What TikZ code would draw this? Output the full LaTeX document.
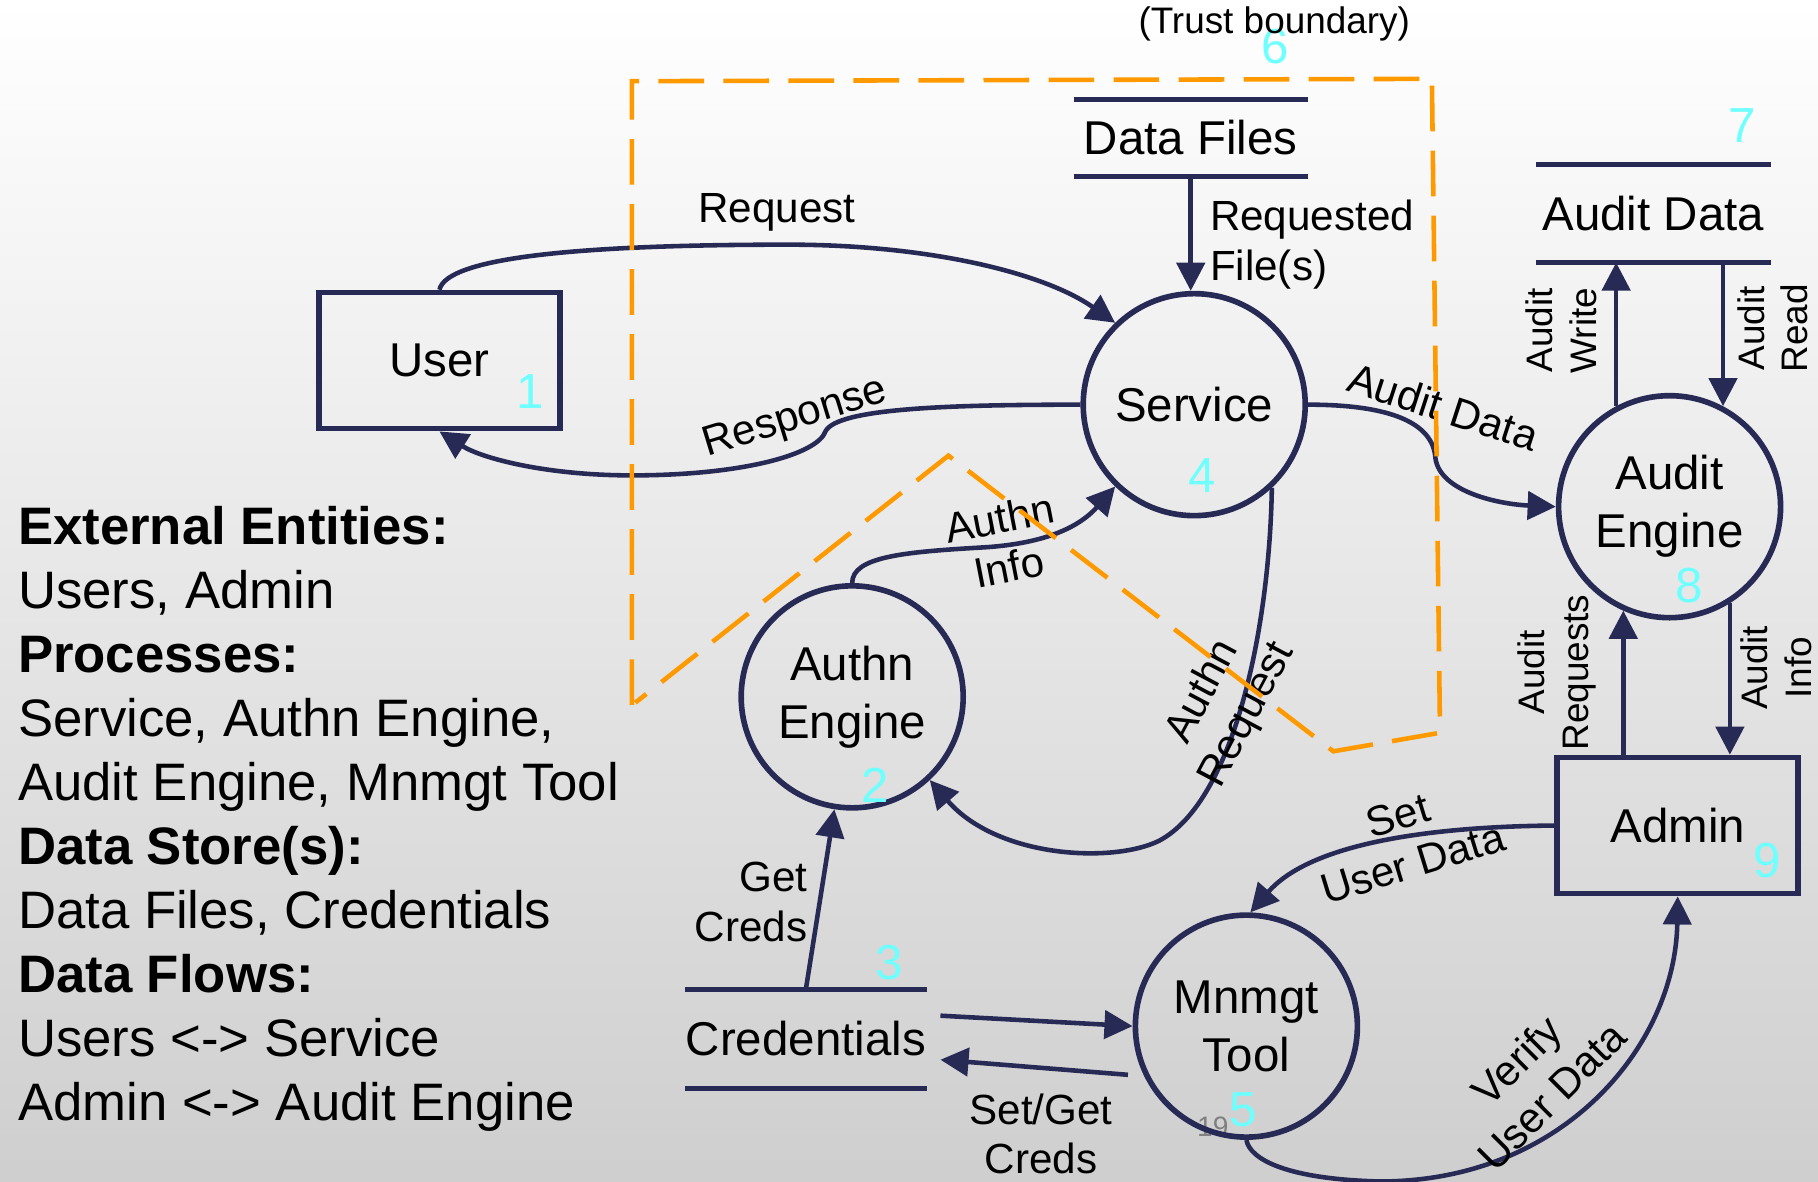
\documentclass[tikz,border=0pt]{standalone}
\usepackage{fontspec}
\setmainfont{Liberation Sans}
\usetikzlibrary{arrows.meta, calc}

\definecolor{dfdnavy}{RGB}{40,42,86}
\definecolor{trustorange}{RGB}{255,153,0}
\definecolor{idcyan}{RGB}{110,255,255}

\newcommand{\dfdnode}{\fontsize{13.5}{16.5}\selectfont}
\newcommand{\dfdflow}{\fontsize{12}{14.2}\selectfont}
\newcommand{\dfdvert}{\fontsize{10.5}{12.5}\selectfont}
\newcommand{\dfdnum}{\fontsize{14}{16}\selectfont}
\newcommand{\dfdside}{\fontsize{15}{18.2}\selectfont}

\tikzset{
  flow/.style={draw=dfdnavy, line width=1.3pt, -{Triangle[length=8pt,width=8pt]}},
  entity/.style={draw=dfdnavy, line width=1.6pt, minimum width=24.1mm, minimum height=13.6mm, font=\dfdnode},
  process/.style={circle, draw=dfdnavy, line width=1.6pt, minimum size=22.2mm, inner sep=0pt, align=center, font=\dfdnode},
  store/.style={minimum width=23.3mm, inner sep=0pt, font=\dfdnode},
  storeline/.style={draw=dfdnavy, line width=1.4pt},
  lbl/.style={font=\dfdflow, align=center, inner sep=1pt},
  vlbl/.style={font=\dfdvert, align=center, rotate=90, inner sep=1pt},
  num/.style={text=idcyan, font=\dfdnum, inner sep=0pt},
  trust/.style={draw=trustorange, line width=1.3pt, dash pattern=on 13pt off 5.5pt},
}

\begin{document}
\begin{tikzpicture}[x=0.11594mm, y=-0.11594mm]
  \shade[top color=white, bottom color=gray!38] (0,0) rectangle (1568,1019); % backdrop
  \useasboundingbox (0,0) rectangle (1568,1019);

  % summary on the left
  \node[anchor=west, align=left, font=\dfdside, inner sep=0pt] (summary) at (15,706) {%
    \textbf{External Entities:}\\
    Users, Admin\\
    \textbf{Processes:}\\
    Service, Authn Engine,\\
    Audit Engine, Mnmgt Tool\\
    \textbf{Data Store(s):}\\
    Data Files, Credentials\\
    \textbf{Data Flows:}\\
    Users <-> Service\\
    Admin <-> Audit Engine};

  % external entities
  \node[entity] (user) at (379,311) {User};
  \node[entity] (admin) at (1447,712) {Admin};

  % processes
  \node[text=gray, font=\fontsize{8}{9}\selectfont, inner sep=0pt] (pageno) at (1046,972) {19};
  \node[process] (service) at (1030,349) {Service};
  \node[process] (authn) at (735,601) {Authn\\Engine};
  \node[process] (auditeng) at (1440,437) {Audit\\Engine};
  \node[process] (tool) at (1075,885) {Mnmgt\\Tool};

  % data stores
  \node[store, minimum height=7.5mm] (files) at (1027,119) {Data Files};
  \node[store, minimum height=9.7mm] (auditdata) at (1426,184) {Audit Data};
  \node[store, minimum height=9.7mm] (creds) at (695,896) {Credentials};
  \foreach \s in {files,auditdata,creds}
    \draw[storeline] (\s.north west) -- (\s.north east) (\s.south west) -- (\s.south east);

  % element numbers
  \node[num] at (457,338) {1};
  \node[num] at (755,677) {2};
  \node[num] at (767,830) {3};
  \node[num] at (1037,410) {4};
  \node[num] at (1072,957) {5};
  \node[num] at (1100,40) {6};
  \node[num] at (1503,108) {7};
  \node[num] at (1457,505) {8};
  \node[num] at (1524,742) {9};

  % flows between user and service
  \draw[flow] (user.north) .. controls (385,222) and (500,211) .. (680,211) .. controls (800,211) and (900,235) .. (service.134);
  \draw[flow] (service.west) .. controls (820,349) and (722,352) .. (712,372) .. controls (705,392) and (640,410) .. (545,410) .. controls (470,410) and (415,395) .. (user.south);
  \node[lbl] at (670,183) {Request};
  \node[lbl, rotate=17] at (686,361) {Response};

  % data files
  \draw[flow] (files.south) -- (files.south |- service.north);
  \node[lbl, anchor=west, align=left] at (1040,211) {Requested\\File(s)};

  % authentication
  \draw[flow] (authn.north) .. controls (735,480) and (780,476) .. (850,472) .. controls (910,468) and (935,450) .. (service.226);
  \draw[flow] (service.313) .. controls (1095,540) and (1065,690) .. (1000,725) .. controls (960,745) and (860,740) .. (authn.313);
  \draw[flow] (creds.north) -- (authn.261);
  \node[lbl, rotate=11] at (866,468) {Authn\\Info};
  \node[lbl, rotate=62] at (1057,607) {Authn\\Request};
  \node[lbl, anchor=east, align=right] at (700,778) {Get\\Creds};

  % auditing
  \draw[flow] (service.east) .. controls (1200,349) and (1236,365) .. (1238,395) .. controls (1242,425) and (1295,435) .. (auditeng.west);
  \draw[flow] (auditeng.118) -- (auditeng.118 |- auditdata.south);
  \draw[flow] (auditeng.62 |- auditdata.south) -- (auditeng.62);
  \draw[flow] (auditeng.246 |- admin.north) -- (auditeng.246);
  \draw[flow] (auditeng.302) -- (auditeng.302 |- admin.north);
  \node[lbl, rotate=-18] at (1245,351) {Audit Data};
  \node[vlbl] at (1347,285) {Audit\\Write};
  \node[vlbl] at (1529,283) {Audit\\Read};
  \node[vlbl] at (1343,580) {Audit\\Requests};
  \node[vlbl] at (1532,576) {Audit\\Info};

  % management tool
  \draw[flow] ($(creds.east)+(12,-20)$) -- (tool.west);
  \draw[flow] ($(tool.west)+(-4,42)$) -- ($(creds.east)+(12,18)$);
  \draw[flow] (admin.west) .. controls (1230,713) and (1130,728) .. (tool.88);
  \draw[flow] (tool.south) .. controls (1078,1000) and (1110,1017) .. (1190,1019) .. controls (1350,1019) and (1445,900) .. (admin.south);
  \node[lbl] at (898,978) {Set/Get\\Creds};
  \node[lbl, rotate=17] at (1212,724) {Set\\User Data};
  \node[lbl, rotate=45] at (1323,930) {Verify\\User Data};

  % trust boundary
  \draw[trust] (545,608) -- (545,70) -- (1235,68) -- (1242,632) -- (1150,648) -- (818,393) -- (548,606);
  \node[font=\dfdvert] at (1099,21) {(Trust boundary)};
\end{tikzpicture}
\end{document}
